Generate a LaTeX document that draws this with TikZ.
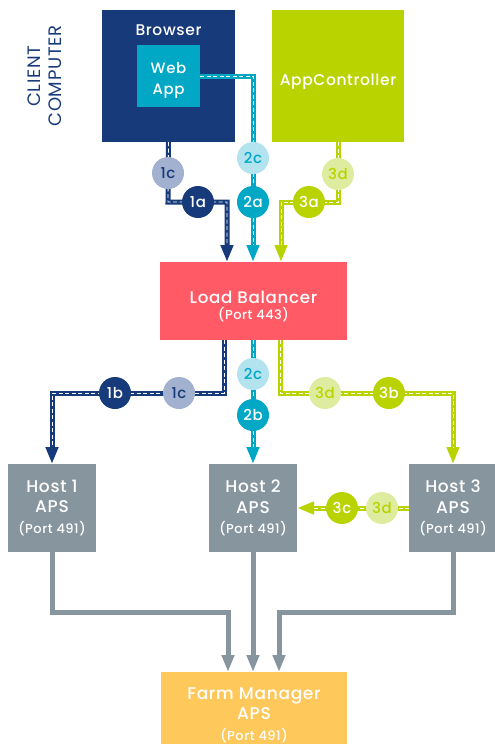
\documentclass[tikz,border=0pt]{standalone}
\usepackage{fontspec}
\setmainfont{Poppins}[LetterSpace=4, BoldFont={Poppins Medium}]
\usetikzlibrary{arrows.meta}
\definecolor{navy}{HTML}{173A7B}
\definecolor{navyl}{HTML}{A1B1CF}
\definecolor{teal}{HTML}{00A8C5}
\definecolor{teall}{HTML}{B2E3EF}
\definecolor{lime}{HTML}{B9D300}
\definecolor{limel}{HTML}{DEEC9F}
\definecolor{lbred}{HTML}{FF5A65}
\definecolor{greyb}{HTML}{87969E}
\definecolor{fmyel}{HTML}{FFC85A}
\newcommand\portsz{\fontsize{13}{14}\selectfont}
\tikzset{
  box/.style={rectangle, inner sep=0pt, outer sep=0pt, text=white, align=center,
    font=\fontsize{17}{20.5}\selectfont\bfseries},
  lbl/.style={inner sep=0pt, anchor=base, text=white, font=\fontsize{#1}{16}\selectfont\bfseries},
  tip/.style={-{Triangle[length=17pt,width=12pt]}},
  flowline/.style={draw=#1, line width=5pt, tip},
  flowdash/.style={draw=white, line width=0.8pt, dash pattern=on 4pt off 2.5pt, shorten >=17pt},
  greyline/.style={draw=greyb, line width=5pt, tip},
  badge/.style={circle, minimum size=32pt, inner sep=0pt, font=\fontsize{15}{14}\selectfont\bfseries},
  bdark/.style={badge, fill=#1, text=white},
}
\newcommand\flowpath[2]{\path[flowline=#1] #2; \path[flowdash] #2;}
\begin{document}
\begin{tikzpicture}[x=1pt,y=-1pt]
\useasboundingbox (0,0) rectangle (495,744);
% client computer label
\node[rotate=90, align=center, text=navy, font=\fontsize{18}{21}\selectfont] (client) at (45,76) {CLIENT\\COMPUTER};
% boxes
\node[box, fill=navy, minimum width=133pt, minimum height=132pt] (browser) at (168.5,76) {};
\node[lbl=15.5] (browserlbl) at (168.5,35) {Browser};
\node[box, fill=lime, minimum width=132pt, minimum height=132pt] (appctrl) at (338,76) {};
\node[lbl=15.5] (appctrllbl) at (338,85) {AppController};
\node[box, fill=lbred, minimum width=187pt, minimum height=78pt] (lb) at (253.5,301) {};
\node[lbl=16.7] (lblbl) at (253.5,303) {Load Balancer};
\node[lbl=13] (lbport) at (253.5,319) {(Port 443)};
\node[box, fill=greyb, minimum width=88pt, minimum height=88pt] (host1) at (52,508) {Host 1\\APS\\{\portsz (Port 491)}};
\node[box, fill=greyb, minimum width=88pt, minimum height=88pt] (host2) at (253,508) {Host 2\\APS\\{\portsz (Port 491)}};
\node[box, fill=greyb, minimum width=88pt, minimum height=88pt] (host3) at (453,508) {Host 3\\APS\\{\portsz (Port 491)}};
\node[box, fill=fmyel, minimum width=186pt, minimum height=86pt] (fm) at (254,715) {Farm Manager\\APS\\{\portsz (Port 491)}};
% x positions
\coordinate (xa) at (227,0);
\coordinate (xb) at (253,0);
\coordinate (xc) at (281,0);
\coordinate (xd) at (224,0);
\coordinate (xe) at (280,0);
\coordinate (xg1) at (228,0);
\coordinate (xg3) at (279,0);
% flows into load balancer
\flowpath{navy}{(browser.south) -- (168,202) -| (lb.north -| xa)}
\node[box, fill=teal, minimum width=63pt, minimum height=62pt] (webapp) at (168.5,76) {};
\node[lbl=15] (weblbl) at (168.5,73) {Web};
\node[lbl=15] (applbl) at (168.5,94) {App};
\flowpath{teal}{(webapp.east) -| (lb.north -| xb)}
\flowpath{lime}{(appctrl.south) -- (338,202) -| (lb.north -| xc)}
% flows out of load balancer
\flowpath{navy}{(lb.south -| xd) -- (224,393) -| (host1.north)}
\flowpath{teal}{(lb.south -| xb) -- (host2.north)}
\flowpath{lime}{(lb.south -| xe) -- (280,393) -| (host3.north)}
\flowpath{lime}{(host3.west) -- (host2.east)}
% grey to farm manager
\path[greyline] (host1.south) -- (52,612) -| (fm.north -| xg1);
\path[greyline] (host2.south) -- (fm.north -| xb);
\path[greyline] (host3.south) -- (453,612) -| (fm.north -| xg3);
% badges
\node[badge, fill=navyl, text=navy] (b1c) at (168,173) {1c};
\node[bdark=navy] (b1a) at (198,202) {1a};
\node[badge, fill=teall, text=teal] (b2c) at (253,158) {2c};
\node[bdark=teal] (b2a) at (253,202) {2a};
\node[badge, fill=limel, text=lime] (b3d) at (338,174) {3d};
\node[bdark=lime] (b3a) at (309,202) {3a};
\node[badge, fill=navyl, text=navy] (b1c2) at (179,393) {1c};
\node[bdark=navy] (b1b) at (115,393) {1b};
\node[badge, fill=teall, text=teal] (b2c2) at (253,374) {2c};
\node[bdark=teal] (b2b) at (253,415) {2b};
\node[badge, fill=limel, text=lime] (b3d2) at (325,393) {3d};
\node[bdark=lime] (b3b) at (389,393) {3b};
\node[badge, fill=limel, text=lime] (b3d3) at (382,508) {3d};
\node[bdark=lime] (b3c) at (342,508) {3c};
\end{tikzpicture}
\end{document}
